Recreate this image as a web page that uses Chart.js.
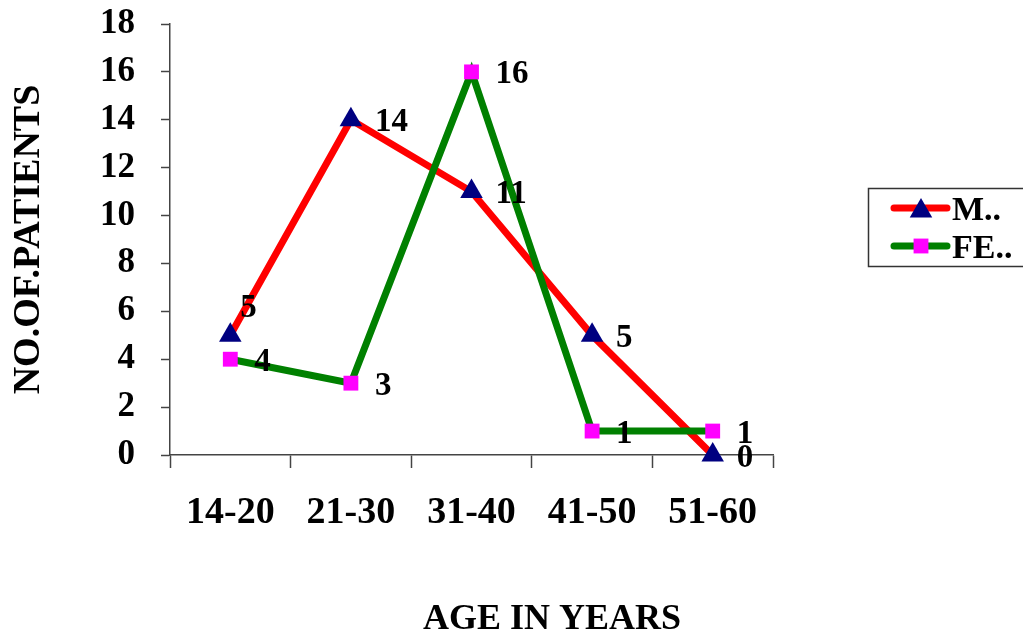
<!DOCTYPE html>
<html>
<head>
<meta charset="utf-8">
<script src="https://cdn.jsdelivr.net/npm/chart.js@4/dist/chart.umd.min.js"></script>
<style>
  html, body { margin: 0; padding: 0; background: #fff; }
  #wrap { width: 1023px; height: 635px; }
</style>
</head>
<body>
<div id="wrap"><canvas id="myChart" width="1023" height="635"></canvas></div>
<script>
var ageGroups = ["14-20", "21-30", "31-40", "41-50", "51-60"];
var maleCounts = [5, 14, 11, 5, 0];
var femaleCounts = [4, 3, 16, 1, 1];
var seriesNames = ["M..", "FE.."];
var yMax = 18;
var yStep = 2;
var xTitle = "AGE IN YEARS";
var yTitle = "NO.OF.PATIENTS";

var serif = "'Liberation Serif', 'Times New Roman', serif";

// value labels to the right of each marker
var valueLabels = {
  id: "valueLabels",
  afterDatasetsDraw: function (chart) {
    var ctx = chart.ctx;
    ctx.save();
    ctx.font = "bold 33px " + serif;
    ctx.fillStyle = "#000";
    ctx.textAlign = "left";
    ctx.textBaseline = "middle";
    chart.data.datasets.forEach(function (ds, di) {
      var meta = chart.getDatasetMeta(di);
      meta.data.forEach(function (pt, i) {
        var dx = 24, dy = 3;
        // first male label sits above the marker
        if (di === 0 && i === 0) { dx = 10; dy = -27; }
        ctx.fillText(String(ds.data[i]), pt.x + dx, pt.y + dy);
      });
    });
    ctx.restore();
  }
};

// boxed legend on the right (cut by the page edge) and the x title
var boxLegend = {
  id: "boxLegend",
  afterDraw: function (chart) {
    var ctx = chart.ctx;
    ctx.save();
    ctx.strokeStyle = "#333";
    ctx.lineWidth = 1.5;
    ctx.strokeRect(868.5, 188.5, 170, 78);
    var rows = [208, 246];
    chart.data.datasets.forEach(function (ds, di) {
      var y = rows[di];
      ctx.strokeStyle = ds.borderColor;
      ctx.lineWidth = 7;
      ctx.lineCap = "round";
      ctx.beginPath();
      ctx.moveTo(894, y);
      ctx.lineTo(947, y);
      ctx.stroke();
      ctx.fillStyle = ds.pointBackgroundColor;
      Chart.helpers.drawPoint(ctx, {
        pointStyle: ds.pointStyle,
        radius: ds.pointRadius,
        rotation: 0,
        borderWidth: 0
      }, 921, di === 0 ? y + 3 : y);
      ctx.fillStyle = "#000";
      ctx.font = "bold 34px " + serif;
      ctx.textAlign = "left";
      ctx.textBaseline = "middle";
      ctx.fillText(ds.label, 952, y + 3);
    });

    ctx.font = "bold 36px " + serif;
    ctx.textAlign = "center";
    ctx.textBaseline = "middle";
    ctx.fillText(xTitle, 552, 620);
    ctx.restore();
  }
};

var ctx = document.getElementById("myChart").getContext("2d");
var myChart = new Chart(ctx, {
  type: "line",
  data: {
    labels: ageGroups,
    datasets: [
      {
        label: seriesNames[0],
        data: maleCounts,
        borderColor: "#ff0000",
        borderWidth: 7,
        pointStyle: "triangle",
        pointRadius: 13,
        pointBackgroundColor: "#000080",
        pointBorderWidth: 0,
        tension: 0,
        clip: false,
        order: 1
      },
      {
        label: seriesNames[1],
        data: femaleCounts,
        borderColor: "#008000",
        borderWidth: 7,
        pointStyle: "rect",
        pointRadius: 10.5,
        pointBackgroundColor: "#ff00ff",
        pointBorderWidth: 0,
        tension: 0,
        clip: false,
        order: 0
      }
    ]
  },
  options: {
    responsive: false,
    animation: false,
    layout: { padding: { top: 24, right: 250, left: 0, bottom: 0 } },
    plugins: {
      legend: { display: false },
      tooltip: { enabled: false }
    },
    scales: {
      x: {
        offset: true,
        grid: {
          offset: true,
          drawOnChartArea: false,
          drawTicks: true,
          tickLength: 13,
          tickColor: "#444",
          tickWidth: 1.5
        },
        border: { display: true, color: "#444", width: 1.5 },
        ticks: {
          color: "#000",
          padding: 22,
          maxRotation: 0,
          font: { family: serif, size: 38, weight: "bold" }
        },
        afterFit: function (scale) { scale.height = 180; }
      },
      y: {
        min: 0,
        max: yMax,
        grid: {
          drawOnChartArea: false,
          drawTicks: true,
          tickLength: 9,
          tickColor: "#444",
          tickWidth: 1.5
        },
        border: { display: true, color: "#444", width: 1.5 },
        ticks: {
          stepSize: yStep,
          color: "#000",
          padding: 26,
          font: { family: serif, size: 35, weight: "bold" }
        },
        title: {
          display: true,
          text: yTitle,
          color: "#000",
          padding: { top: 6, bottom: 0 },
          font: { family: serif, size: 38, weight: "bold" }
        },
        afterFit: function (scale) {
          scale.width = 170;
          scale.paddingTop = 0;
          scale.paddingBottom = 0;
        }
      }
    }
  },
  plugins: [valueLabels, boxLegend]
});
</script>
</body>
</html>
